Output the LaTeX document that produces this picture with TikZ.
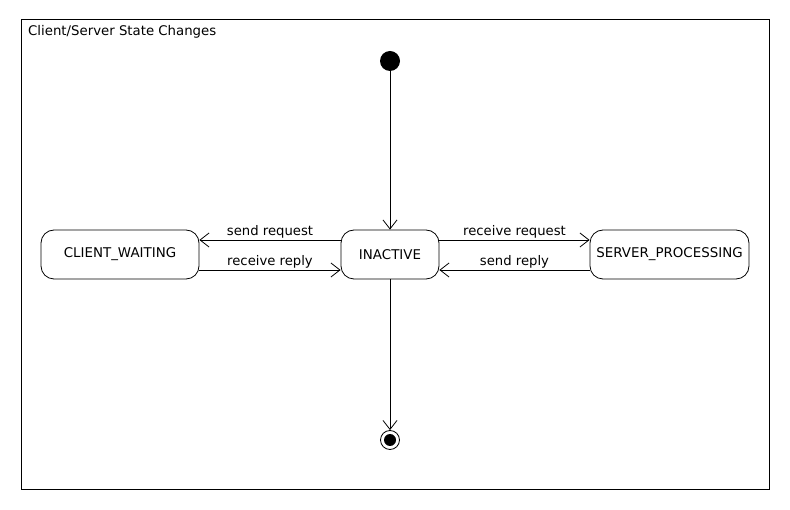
\documentclass[tikz,border=0pt]{standalone}
\usepackage{fontspec}
\setmainfont{DejaVu Sans}
\usetikzlibrary{arrows.meta}
\begin{document}
\begin{tikzpicture}[x=1pt,y=-1pt,
  state/.style={draw,line width=0.8pt,rounded corners=13pt,minimum height=49pt,inner sep=0pt,font=\fontsize{13.4}{15}\selectfont},
  lbl/.style={font=\fontsize{13.2}{15}\selectfont,inner sep=1pt},
  tr/.style={-{Straight Barb[length=9pt,width=14pt]},line width=0.8pt}]
\useasboundingbox (0,0) rectangle (790,510);
\node[draw,line width=0.8pt,minimum width=748pt,minimum height=470pt,inner sep=0pt] (frame) at (395,254) {};
\node[anchor=north west,font=\fontsize{13.3}{15}\selectfont,inner sep=0pt] (title) at (28,25) {Client/Server State Changes};
\node[circle,fill=black,minimum size=20pt,inner sep=0pt] (init) at (390,61) {};
\node[state,minimum width=98pt] (inactive) at (390,254.5) {INACTIVE};
\node[state,minimum width=158pt] (client) at (120,254.5) {CLIENT\_WAITING};
\node[state,minimum width=159pt] (server) at (669.5,254.5) {SERVER\_PROCESSING};
\node[circle,draw,line width=0.8pt,minimum size=19pt,inner sep=0pt] (final) at (390,440) {};
\node[circle,fill=black,minimum size=12pt,inner sep=0pt] (finalin) at (390,440) {};
\draw[tr] (init) -- (inactive);
\draw[tr] (inactive) -- (final);
\draw[tr] (inactive.west |- 0,240) -- node[lbl,above] {send request} (client.east |- 0,240);
\draw[tr] (client.east |- 0,270) -- node[lbl,above] {receive reply} (inactive.west |- 0,270);
\draw[tr] (inactive.east |- 0,240) -- node[lbl,above] {receive request} (server.west |- 0,240);
\draw[tr] (server.west |- 0,270) -- node[lbl,above] {send reply} (inactive.east |- 0,270);
\end{tikzpicture}
\end{document}
